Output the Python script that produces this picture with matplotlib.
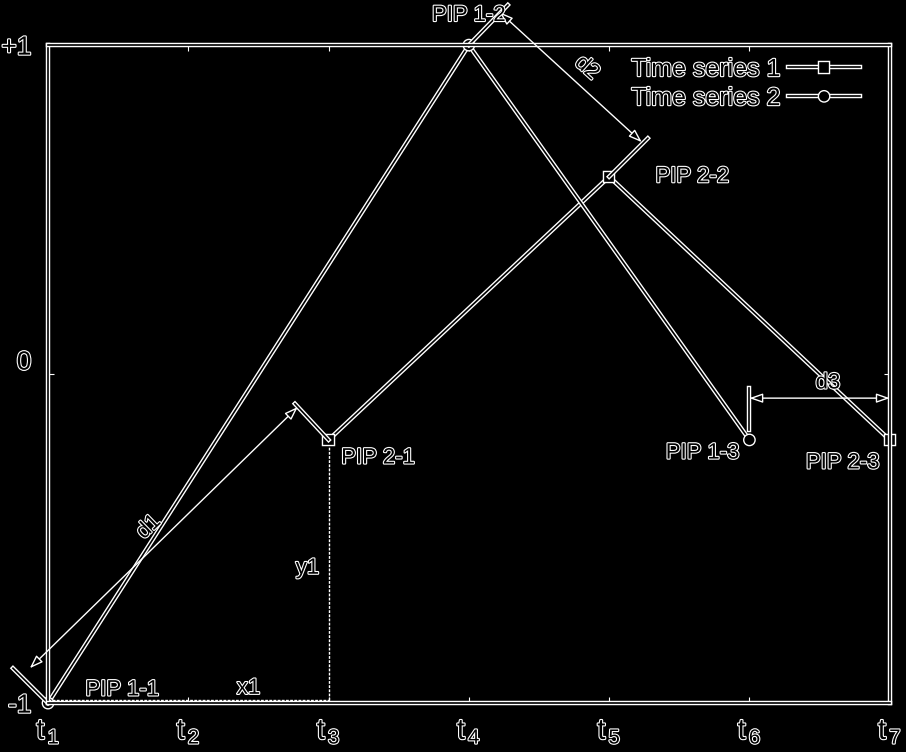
import matplotlib.pyplot as plt
import matplotlib.patheffects as pe
import matplotlib.transforms as mtransforms

plt.rcParams['font.family'] = 'Liberation Sans'
plt.rcParams['mathtext.fontset'] = 'custom'
plt.rcParams['mathtext.rm'] = 'Liberation Sans'
plt.rcParams['mathtext.it'] = 'Liberation Sans'

# data
t_pos = [1, 2, 3, 4, 5, 6, 7]
t_labels = [r'$\mathregular{t_{\,%d}}$' % i for i in t_pos]
y_ticks = [-1, 0, 1]
y_labels = ['-1', '0', '+1']

pip1_x = [1, 4, 6]
pip1_y = [-1, 1, -0.2]
pip2_x = [3, 5, 7]
pip2_y = [-0.2, 0.6, -0.2]

# outline look: white edge, black core
line_fx = [pe.Stroke(linewidth=3.2, foreground='white'), pe.Stroke(linewidth=1.2, foreground='black')]
text_fx = [pe.withStroke(linewidth=1.6, foreground='white')]

fig = plt.figure(figsize=(9.06, 7.52), dpi=100, facecolor='black')
ax = fig.add_axes([0.053, 0.065, 0.929, 0.875], facecolor='black')


def oline(x, y, **kw):
    ln, = ax.plot(x, y, color='black', lw=1.2, clip_on=False, **kw)
    ln.set_path_effects(line_fx)
    return ln


def otext(x, y, s, **kw):
    t = ax.text(x, y, s, color='black', fontsize=16, **kw)
    t.set_path_effects(text_fx)
    return t


def arrow(p0, p1):
    ax.annotate('', xy=p1, xytext=p0, annotation_clip=False,
                arrowprops=dict(arrowstyle='<|-|>,head_length=0.8,head_width=0.28',
                                fc='black', ec='white', lw=1.0, shrinkA=0, shrinkB=0))


ax.set_xlim(1, 7)
ax.set_ylim(-1, 1)

# series
s2 = oline(pip2_x, pip2_y, marker='s', ms=6, mfc='black', mec='white', mew=1, label='Time series 1')
s1 = oline(pip1_x, pip1_y, marker='o', ms=6, mfc='black', mec='white', mew=1, label='Time series 2')

# x1 / y1 guides
ax.plot([1, 3], [-0.99, -0.99], color='white', lw=1, ls=(0, (2, 1)), clip_on=False)
ax.plot([3, 3], [-0.99, -0.22], color='white', lw=1, ls=(0, (2, 1)), clip_on=False)

# d1
oline([1, 0.75], [-1, -0.894])
oline([3, 2.76], [-0.2, -0.09])
arrow((0.87, -0.894), (2.78, -0.10))
# d2
oline([4, 4.278], [1, 1.122])
oline([5, 5.276], [0.6, 0.717])
arrow((4.22, 1.10), (5.233, 0.705))
# d3
oline([6, 6], [-0.17, -0.043])
arrow((6.0, -0.073), (7.0, -0.073))

otext(1.72, -0.465, 'd1', rotation=44, ha='center', va='center')
otext(4.84, 0.93, 'd2', rotation=-42, ha='center', va='center')
otext(6.56, -0.027, 'd3', ha='center', va='center')
otext(2.85, -0.59, 'y1', ha='center', va='center')
otext(2.43, -0.955, 'x1', ha='center', va='center')
otext(1.53, -0.96, 'PIP 1-1', ha='center', va='center')
otext(4.0, 1.09, 'PIP 1-2', ha='center', va='center')
otext(5.93, -0.24, 'PIP 1-3', ha='right', va='center')
otext(3.09, -0.255, 'PIP 2-1', ha='left', va='center')
otext(5.33, 0.6, 'PIP 2-2', ha='left', va='center')
otext(6.665, -0.27, 'PIP 2-3', ha='center', va='center')

ax.set_xticks(t_pos)
ax.set_xticklabels(t_labels, fontsize=21)
ax.set_yticks(y_ticks)
ax.set_yticklabels(y_labels, fontsize=19)
ax.tick_params(direction='in', top=True, right=True, length=4, color='white')
ax.tick_params(axis='x', pad=10)
ax.tick_params(axis='y', pad=12)
for lab in ax.get_xticklabels() + ax.get_yticklabels():
    lab.set_color('black')
    lab.set_path_effects(text_fx)
# the "0" label sits a little above the middle in the original
zero_lab = ax.get_yticklabels()[1]
zero_lab.set_transform(zero_lab.get_transform() +
                       mtransforms.ScaledTranslation(0, 14 / 100, fig.dpi_scale_trans))

for sp in ax.spines.values():
    sp.set_color('black')
    sp.set_linewidth(1.2)
    sp.set_path_effects(line_fx)

leg = ax.legend(loc='upper right', frameon=False, markerfirst=False, fontsize=18,
                handlelength=2.9, handletextpad=0.3, numpoints=1, labelspacing=0.2,
                borderaxespad=0.0, bbox_to_anchor=(0.977, 0.997))
for ln in leg.get_lines():
    ln.set_path_effects(line_fx)
for tx in leg.get_texts():
    tx.set_color('black')
    tx.set_path_effects(text_fx)

fig.savefig('out.png', dpi=100, facecolor='black')
